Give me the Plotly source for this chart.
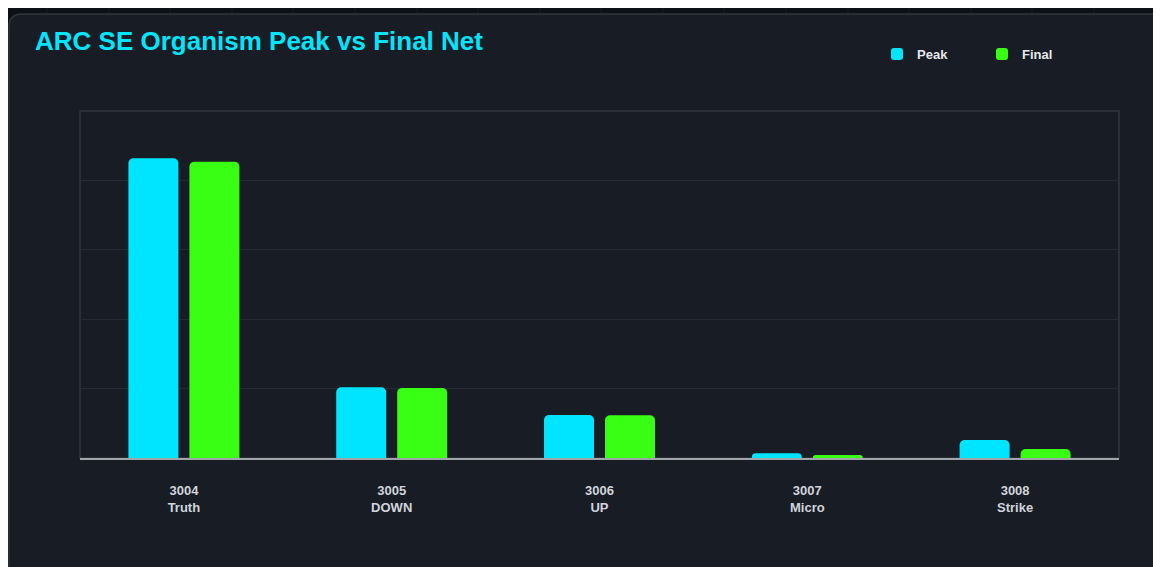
import plotly.graph_objects as go

# organisms and their net values (peak vs final)
organisms = ["3004<br>Truth", "3005<br>DOWN", "3006<br>UP", "3007<br>Micro", "3008<br>Strike"]
peak_net = [4320, 1020, 620, 70, 260]
final_net = [4270, 1010, 615, 45, 130]

# page body adds an 8px offset, so figure coords = screen coords - 8
OFF = 8
W, H = 1161 - OFF, 567 - OFF
ML, MT = 80 - OFF, 111 - OFF
MR, MB = W - (1119 - OFF), H - (458 - OFF)
PW, PH = W - ML - MR, H - MT - MB


def px2paper(x, y):
    # screen pixel -> paper coords
    x, y = x - OFF, y - OFF
    return (x - ML) / PW, (H - MB - y) / PH


def rounded_card(x0, y0, x1, y1, r):
    pts = ["M%.5f,%.5f" % px2paper(x0, y1),
           "L%.5f,%.5f" % px2paper(x0, y0 + r)]
    c = px2paper(x0, y0)
    e = px2paper(x0 + r, y0)
    pts.append("Q%.5f,%.5f %.5f,%.5f" % (c[0], c[1], e[0], e[1]))
    pts.append("L%.5f,%.5f" % px2paper(x1, y0))
    pts.append("L%.5f,%.5f" % px2paper(x1, y1))
    pts.append("Z")
    return " ".join(pts)


fig = go.Figure()
fig.add_trace(go.Bar(x=organisms, y=peak_net, name="Peak",
                     marker=dict(color="#00e5ff", cornerradius=5, line_width=0)))
fig.add_trace(go.Bar(x=organisms, y=final_net, name="Final",
                     marker=dict(color="#39ff14", cornerradius=5, line_width=0)))

shapes = [
    dict(type="path", xref="paper", yref="paper", layer="below",
         path=rounded_card(9, 14, 1190, 620, 13),
         fillcolor="#181c24", line=dict(color="#2f353e", width=1.5)),
    dict(type="rect", xref="paper", yref="paper", layer="below",
         x0=0, x1=1, y0=0, y1=1, fillcolor="rgba(0,0,0,0)",
         line=dict(color="#30363f", width=1.5)),
]
# faint page grid peeking above the card
for gx in [47, 109, 170, 232, 293, 355, 417, 478, 540, 601, 663, 724, 786, 848, 909, 971, 1032, 1094, 1155]:
    x0, y0 = px2paper(gx, 0)
    _, y1 = px2paper(gx, 14)
    shapes.insert(0, dict(type="line", xref="paper", yref="paper", layer="below",
                          x0=x0, x1=x0, y0=y0, y1=y1, line=dict(color="#161b24", width=1)))

fig.update_layout(
    width=W, height=H,
    margin=dict(l=ML, r=MR, t=MT, b=MB),
    paper_bgcolor="#0d1017",
    plot_bgcolor="rgba(0,0,0,0)",
    font=dict(family="Liberation Sans, Arial, sans-serif", color="#d0d4dc"),
    title=dict(text="<b>ARC SE Organism Peak vs Final Net</b>",
               font=dict(size=26, color="#00e5ff"),
               x=(35 - OFF) / W, xref="container", xanchor="left",
               y=1 - (32 - OFF) / H, yref="container", yanchor="top"),
    barmode="group", bargap=0.413, bargroupgap=0.18,
    showlegend=True,
    legend=dict(orientation="h", xref="container", yref="container",
                x=(877 - OFF) / W, xanchor="left", y=1 - (39 - OFF) / H, yanchor="top",
                font=dict(size=13, color="#e6e8ec", weight="bold"),
                bgcolor="rgba(0,0,0,0)", entrywidth=60, entrywidthmode="pixels",
                itemclick=False),
    xaxis=dict(showgrid=False, showline=True, linecolor="#a0a4ab", linewidth=2,
               ticks="", ticklabelstandoff=19,
               tickfont=dict(size=13, color="#d0d4dc", weight="bold")),
    yaxis=dict(range=[0, 5000], dtick=1000, showticklabels=False,
               gridcolor="#252a33", gridwidth=1, zeroline=False, showline=False),
    shapes=shapes,
)

fig.write_html("out.html")
